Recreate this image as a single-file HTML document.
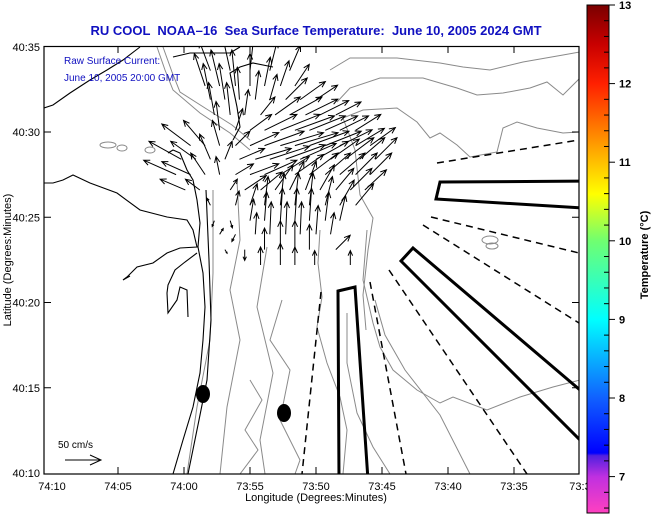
<!DOCTYPE html>
<html><head><meta charset="utf-8"><style>
html,body{margin:0;padding:0;background:#fff;}
svg{display:block;font-family:"Liberation Sans",sans-serif;}
</style></head><body>
<svg id="chart" width="651" height="515" viewBox="0 0 651 515" xmlns="http://www.w3.org/2000/svg">
<defs>
<linearGradient id="cbar" x1="0" y1="0" x2="0" y2="1">
<stop offset="0" stop-color="#7a0000"/>
<stop offset="0.077" stop-color="#c80000"/>
<stop offset="0.155" stop-color="#ff2000"/>
<stop offset="0.248" stop-color="#ff8000"/>
<stop offset="0.31" stop-color="#ffc000"/>
<stop offset="0.372" stop-color="#ffff00"/>
<stop offset="0.464" stop-color="#70ff70"/>
<stop offset="0.619" stop-color="#00ffff"/>
<stop offset="0.774" stop-color="#1060ff"/>
<stop offset="0.882" stop-color="#0000ff"/>
<stop offset="0.887" stop-color="#5020e0"/>
<stop offset="0.929" stop-color="#c030e0"/>
<stop offset="1" stop-color="#ff40c0"/>
</linearGradient>
<clipPath id="plotclip"><rect x="44" y="46" width="535" height="428"/></clipPath>
</defs>
<text x="316" y="35" text-anchor="middle" font-size="13" font-weight="bold" fill="#1010c0" style="white-space:pre">RU COOL  NOAA–16  Sea Surface Temperature:  June 10, 2005 2024 GMT</text>
<g id="plot" clip-path="url(#plotclip)">
  <g id="contours" fill="none" stroke="#8a8a8a" stroke-width="1">
    <polyline points="330,70 350,58 397,58 440,63 463,67 490,70 523,62 563,55 580,52"/>
    <polyline points="337,102 350,88 380,78 423,78 457,88 477,95 503,93 530,88 547,82 563,95 580,78"/>
    <polyline points="343,118 363,110 397,108 417,122 430,138 440,133 457,145 470,157 497,152 503,128 517,122 537,128 563,133 580,132"/>
    <polyline points="343,118 355,150 360,195 373,218 368,250 363,295 366,330"/>
    <polyline points="320,230 318,263 322,297 317,327 327,363 340,397 347,430 343,474"/>
    <polyline points="367,230 363,280 373,323 380,347 393,370 417,390 440,403 453,397 487,410 520,397 553,387 580,380"/>
    <polyline points="347,313 347,363 357,413 373,447 390,474"/>
    <polyline points="375,300 385,335 405,370 440,415 470,474"/>
    <polyline points="157,47 165,70 173,90 200,113 230,133 250,150"/>
    <polyline points="163,47 172,72 180,92 205,108 232,125 250,140"/>
    <polyline points="213,190 213,273 210,340 197,407 187,474"/>
    <polyline points="237,180 240,240 230,290 240,340 227,407 220,474"/>
    <polyline points="267,247 257,307 273,373 260,440 265,474"/>
    <polyline points="282,300 270,340 290,370 280,420 300,460 295,474"/>
    <polyline points="250,380 262,400 245,430 258,450 240,474"/>
    <ellipse cx="108" cy="145" rx="8" ry="3"/>
    <ellipse cx="122" cy="148" rx="5" ry="3"/>
    <ellipse cx="150" cy="150" rx="5" ry="3"/>
    <ellipse cx="490" cy="240" rx="8" ry="4"/>
    <ellipse cx="492" cy="246" rx="6" ry="3"/>
  </g>
  <g id="coast" fill="none" stroke="#000" stroke-width="1.1">
    <polyline points="44,108 53,105 70,93 90,80 107,70 123,60 140,47"/>
    <polyline points="173,57 190,53 230,53 240,47"/>
    <polyline points="273,67 253,63 240,67 230,73 232,83 237,107 240,127 233,140"/>
    <polyline points="168,153 173,150 180,153 187,170 193,180 197,200 200,223 198,247 203,273 205,307 203,340 200,373 193,407 183,440 173,474"/>
    <polyline points="44,183 53,183 63,180 73,175 90,183 117,193 140,210 167,217 187,220 193,230 197,247 180,248 167,253 153,263 137,267 127,277 123,280 130,276"/>
    <polyline points="197,253 185,262 175,270 168,285 167,293 168,313 177,300 180,287 187,290 188,317"/>
    <polyline points="206,190 209,260 211,320 207,380 199,420 188,474"/>
  </g>
  <g id="arrows" stroke="#000" stroke-width="1" fill="none"></g>
  <g id="tracks" fill="none" stroke="#000">
    <polyline points="437,163 579,140" stroke-width="1.5" stroke-dasharray="7,5"/>
    <polygon points="440,182 600,181 600,209 436,199" stroke-width="3"/>
    <polyline points="431,217 579,253" stroke-width="1.5" stroke-dasharray="7,5"/>
    <polyline points="423,225 579,323" stroke-width="1.5" stroke-dasharray="7,5"/>
    <polygon points="413,248 600,407 600,460 401,261" stroke-width="3"/>
    <polyline points="389,270 527,474" stroke-width="1.5" stroke-dasharray="7,5"/>
    <polyline points="370,282 406,474" stroke-width="1.5" stroke-dasharray="7,5"/>
    <polyline points="321,292 302,474" stroke-width="1.5" stroke-dasharray="7,5"/>
    <polygon points="338,291 355,287 368,480 339,480" stroke-width="3"/>
  </g>
  <ellipse cx="203" cy="394" rx="7" ry="9" fill="#000"/>
  <ellipse cx="284" cy="413" rx="7" ry="9" fill="#000"/>
</g>
<rect x="44" y="46.5" width="535" height="427.5" fill="none" stroke="#000" stroke-width="1.2"/>
<g id="axes" font-size="11" fill="#000"></g>
<text x="64" y="64" font-size="10" fill="#1010c0">Raw Surface Current:</text>
<text x="64" y="81" font-size="10" fill="#1010c0">June 10, 2005 20:00 GMT</text>
<text x="58" y="448" font-size="10" fill="#000">50 cm/s</text>
<g stroke="#000" stroke-width="1" fill="none">
  <line x1="65" y1="460" x2="101" y2="460"/><polyline points="90,455 101,460 90,465"/>
</g>
<text x="316" y="501" text-anchor="middle" font-size="11">Longitude (Degrees:Minutes)</text>
<text transform="translate(11,260) rotate(-90)" text-anchor="middle" font-size="11">Latitude (Degrees:Minutes)</text>
<rect x="587" y="5" width="22" height="508" fill="url(#cbar)" stroke="#000" stroke-width="1"/>
<g id="cbticks"></g>
<text transform="translate(648,255) rotate(-90)" text-anchor="middle" font-size="11" font-weight="bold">Temperature (°C)</text>
</svg>
<script>
// Current vectors: lon in minutes east of 74:10W, lat in minutes north of 40:10N, u/v in cm/s
const arrLon = [12.0,13.5,15.0,16.5,18.0,
 11.6,12.7,13.9,15.0,16.1,17.3,18.4,
 12.0,13.1,14.2,15.4,16.5,17.7,18.8,20.0,
 12.3,13.5,14.6,15.8,16.9,18.0,19.2,20.3,21.5,
 12.7,13.9,15.0,16.1,17.3,18.4,19.5,20.7,21.8,23.0,
 10.5,11.6,12.7,13.9,15.0,16.1,17.3,18.4,19.5,20.7,21.8,23.0,24.1,
 9.8,10.9,12.0,13.1,14.2,15.4,16.5,17.7,18.8,20.0,21.1,22.2,23.3,24.5,
 9.4,10.5,11.6,12.7,13.9,15.0,16.1,17.3,18.4,19.5,20.7,21.8,23.0,24.1,
 10.1,11.2,13.5,14.6,15.8,16.9,18.0,19.2,20.3,21.5,22.6,23.7,
 12.0,13.9,15.0,16.1,17.3,18.4,19.5,20.7,21.8,23.0,
 12.3,13.5,15.0,16.1,17.3,18.4,19.5,20.7,21.8,
 12.7,13.9,15.4,16.5,17.7,18.8,20.0,21.1,
 13.1,14.6,16.1,17.3,18.4,19.5,21.5,
 15.8,17.3,18.4,19.9,22.6];
const arrLat = [23.6,23.6,23.6,23.6,23.6,
 22.7,22.7,22.7,22.7,22.7,22.7,22.7,
 21.9,21.9,21.9,21.9,21.9,21.9,21.9,21.9,
 21.0,21.0,21.0,21.0,21.0,21.0,21.0,21.0,21.0,
 20.1,20.1,20.1,20.1,20.1,20.1,20.1,20.1,20.1,20.1,
 19.2,19.2,19.2,19.2,19.2,19.2,19.2,19.2,19.2,19.2,19.2,19.2,19.2,
 18.4,18.4,18.4,18.4,18.4,18.4,18.4,18.4,18.4,18.4,18.4,18.4,18.4,18.4,
 17.5,17.5,17.5,17.5,17.5,17.5,17.5,17.5,17.5,17.5,17.5,17.5,17.5,17.5,
 16.6,16.6,16.6,16.6,16.6,16.6,16.6,16.6,16.6,16.6,16.6,16.6,
 15.7,15.7,15.7,15.7,15.7,15.7,15.7,15.7,15.7,15.7,
 14.8,14.8,14.8,14.8,14.8,14.8,14.8,14.8,14.8,
 14.0,14.0,14.0,14.0,14.0,14.0,14.0,14.0,
 13.1,13.1,13.1,13.1,13.1,13.1,13.1,
 12.2,12.2,12.2,12.2,12.2];
const arrU = [-15,-10,5,10,15,
 -15,-12,-5,0,8,12,20,
 -10,-8,-3,5,10,30,35,30,
 -8,-5,5,20,35,45,45,40,35,
 -5,10,30,45,55,55,50,45,40,35,
 -40,-30,-10,20,40,55,60,60,55,50,45,40,35,
 -45,-35,-15,10,35,50,55,55,50,45,40,40,35,30,
 -45,-40,-20,-5,25,40,45,40,40,40,35,35,30,30,
 -35,-20,10,30,30,25,20,15,20,25,30,30,
 -5,5,10,5,5,5,5,10,20,25,
 -3,3,5,3,3,3,3,5,8,
 5,-5,2,2,2,2,3,5,
 3,0,0,0,0,0,20,
 0,0,0,0,0];
const arrV = [40,45,45,40,35,
 45,50,50,45,40,35,30,
 50,50,45,40,35,30,25,20,
 45,45,35,25,25,25,22,20,18,
 40,30,22,22,22,20,20,20,20,22,
 30,35,35,20,18,20,18,18,20,20,22,24,25,
 25,25,35,25,15,15,18,20,22,25,28,30,30,30,
 20,18,30,25,15,15,20,25,28,30,30,30,30,30,
 15,15,15,20,25,35,40,40,35,30,30,28,
 10,20,30,40,45,45,45,40,35,30,
 -8,-10,30,40,45,45,45,40,35,
 8,-10,30,45,45,45,40,30,
 -5,-15,30,40,40,35,20,
 25,30,25,20,20];
const xTickLabels = ["74:10","74:05","74:00","73:55","73:50","73:45","73:40","73:35","73:3"];
const xTickMinutes = [0,5,10,15,20,25,30,35,40];
const yTickLabels = ["40:10","40:15","40:20","40:25","40:30","40:35"];
const yTickMinutes = [0,5,10,15,20,25];
const cbValues = [7,8,9,10,11,12,13];

const NS = "http://www.w3.org/2000/svg";
function xScale(m){ return 52 + m * 13.2; }
function yScale(n){ return 473 - n * 17.05; }
function cbScale(t){ return 5 + (13 - t) * 78.6; }
function mk(tag, attrs, parent){ const e = document.createElementNS(NS, tag); for (const k in attrs) e.setAttribute(k, attrs[k]); parent.appendChild(e); return e; }

const ag = document.getElementById('arrows');
const PX = 0.72;
for (let i = 0; i < arrLon.length; i++) {
  const x0 = xScale(arrLon[i]), y0 = yScale(arrLat[i]);
  const x1 = x0 + arrU[i] * PX, y1 = y0 - arrV[i] * PX;
  const len = Math.hypot(x1 - x0, y1 - y0) || 1;
  const ux = (x1 - x0) / len, uy = (y1 - y0) / len;
  const h = Math.min(6, len * 0.35);
  const p = mk('path', {d: `M${x0},${y0}L${x1},${y1}M${x1 - h*ux - h*0.45*uy},${y1 - h*uy + h*0.45*ux}L${x1},${y1}L${x1 - h*ux + h*0.45*uy},${y1 - h*uy - h*0.45*ux}`}, ag);
  
  
}

const ax = document.getElementById('axes');
for (let i = 0; i < xTickMinutes.length; i++) {
  const x = xScale(xTickMinutes[i]);
  if (i > 0 && i < xTickMinutes.length - 1) {
    const t1 = mk('line', {x1: x, y1: 474, x2: x, y2: 467, stroke: '#000'}, ax);
    
    
    const t2 = mk('line', {x1: x, y1: 46, x2: x, y2: 53, stroke: '#000'}, ax);
    
    
  }
  const tx = mk('text', {x: x, y: 490, 'text-anchor': 'middle'}, ax);
  tx.textContent = xTickLabels[i];
  
  
}
for (let i = 0; i < yTickMinutes.length; i++) {
  const y = yScale(yTickMinutes[i]);
  if (i > 0 && i < yTickMinutes.length - 1) {
    const t1 = mk('line', {x1: 44, y1: y, x2: 51, y2: y, stroke: '#000'}, ax);
    
    
    const t2 = mk('line', {x1: 579, y1: y, x2: 572, y2: y, stroke: '#000'}, ax);
    
    
  }
  const ty = mk('text', {x: 40, y: y + 4, 'text-anchor': 'end'}, ax);
  ty.textContent = yTickLabels[i];
  
  
}

const cg = document.getElementById('cbticks');
for (let t = 6.6; t <= 13.001; t += 0.2) {
  const y = cbScale(t);
  const major = Math.abs(t - Math.round(t)) < 0.01;
  const l = mk('line', {x1: 609, y1: y, x2: major ? 615 : 604, y2: y, stroke: '#000'}, cg);
  
  
}
for (let i = 0; i < cbValues.length; i++) {
  const y = cbScale(cbValues[i]);
  const tx = mk('text', {x: 619, y: y + 4, 'font-size': '11', 'font-weight': 'bold'}, cg);
  tx.textContent = String(cbValues[i]);
  
  
}
</script>
</body></html>
